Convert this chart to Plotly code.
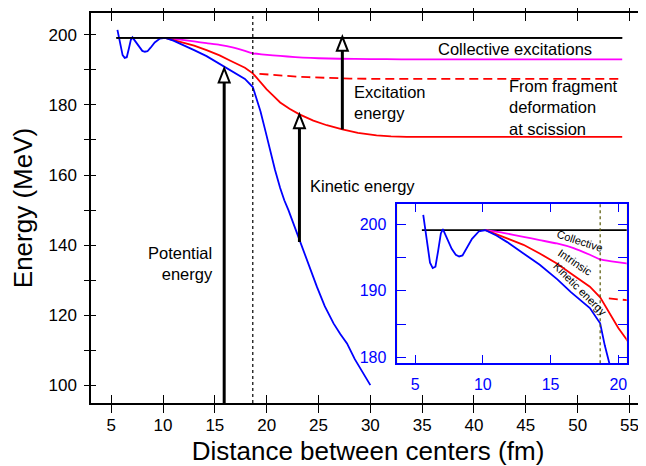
import plotly.graph_objects as go

# ---------------- data ----------------
black_x = [5.5, 54.3]
black_y = [199.1, 199.1]

blue_x = [5.6, 5.9, 6.1, 6.3, 6.5, 6.7, 6.9, 7.05, 7.3, 7.7, 8.0, 8.25, 8.5, 8.8, 9.2, 9.7,
          10.2, 11.0, 11.8, 13.0, 14.2, 15.5, 16.5, 17.9, 18.66, 19.0, 19.4, 19.9, 20.35,
          20.8, 21.3, 21.7, 22.1, 23.2, 24.0, 24.85, 25.6, 26.45, 27.1, 27.75, 28.5, 29.3, 30.0]
blue_y = [201.4, 197.5, 194.2, 193.4, 193.6, 196.0, 198.6, 199.25, 198.2, 196.3, 195.4, 195.15,
          195.3, 196.3, 197.8, 198.9, 199.1, 198.3, 197.3, 195.6, 193.9, 191.7, 189.8, 187.4,
          185.1, 181.8, 178.2, 172.3, 166.8, 161.5, 156.3, 152.8, 150.0, 141.0, 134.5, 128.1,
          122.6, 117.7, 114.7, 112.0, 107.5, 103.4, 100.1]

red_x = [10.2, 11.0, 12.0, 13.0, 14.2, 15.46, 16.5, 17.9, 18.66, 19.3, 20.0, 20.6, 21.3, 22.2,
         23.16, 24.5, 25.8, 27.3, 28.8, 30.6, 32.0, 33.5, 54.3]
red_y = [199.1, 198.5, 197.7, 196.9, 195.6, 194.1, 192.6, 190.6, 189.0, 186.8, 184.4, 182.7,
         180.7, 178.9, 177.3, 175.5, 174.2, 173.0, 172.0, 171.3, 171.0, 170.9, 170.9]

magenta_x = [10.2, 11.5, 13.0, 14.2, 15.46, 16.7, 17.9, 18.66, 19.5, 20.6, 22.0, 23.5, 25.0,
             27.0, 30.0, 33.0, 54.3]
magenta_y = [199.1, 198.7, 198.1, 197.6, 197.1, 196.4, 195.4, 194.7, 194.4, 194.1, 193.8,
             193.5, 193.3, 193.15, 193.05, 193.0, 193.0]

dashed_x = [19.3, 20.6, 22.0, 23.2, 24.0, 26.0, 28.0, 31.0, 54.3]
dashed_y = [188.85, 188.5, 188.2, 188.0, 187.9, 187.65, 187.5, 187.4, 187.4]

scission_x = 18.66

arrow_x = [15.9, 23.16, 27.3]
arrow_base = [95.0, 140.9, 173.0]
arrow_tip = [190.4, 177.3, 199.4]

main_xticks = [5, 10, 15, 20, 25, 30, 35, 40, 45, 50, 55]
main_yticks = [100, 110, 120, 130, 140, 150, 160, 170, 180, 190, 200]
main_ytext = ["100", "", "120", "", "140", "", "160", "", "180", "", "200"]
inset_xticks = [5, 10, 15, 20]
inset_yticks = [180, 185, 190, 195, 200]
inset_ytext = ["180", "", "190", "", "200"]

# ---------------- style ----------------
FONT = "Liberation Sans, Arial, sans-serif"
# the page body has an 8px default margin; the figure is sized to fit the window
W, H = 638, 458
ML, MR, MT, MB = 83, 1, 5, 63
XR = [3.05, 56.5]
YR = [95.0, 206.2]
X2R = [3.69, 20.62]
Y2R = [179.1, 203.1]
BLUE, RED, MAG = "#0000ff", "#ff0000", "#ff00ff"

fig = go.Figure()


def add_curves(xa, ya):
    fig.add_trace(go.Scatter(x=black_x, y=black_y, mode="lines", xaxis=xa, yaxis=ya,
                             line=dict(color="black", width=1.8), hoverinfo="skip"))
    fig.add_trace(go.Scatter(x=magenta_x, y=magenta_y, mode="lines", xaxis=xa, yaxis=ya,
                             line=dict(color=MAG, width=1.8, shape="spline", smoothing=0.4),
                             hoverinfo="skip"))
    fig.add_trace(go.Scatter(x=dashed_x, y=dashed_y, mode="lines", xaxis=xa, yaxis=ya,
                             line=dict(color=RED, width=1.8, dash="9px,5px"), hoverinfo="skip"))
    fig.add_trace(go.Scatter(x=red_x, y=red_y, mode="lines", xaxis=xa, yaxis=ya,
                             line=dict(color=RED, width=1.8), hoverinfo="skip"))
    fig.add_trace(go.Scatter(x=blue_x, y=blue_y, mode="lines", xaxis=xa, yaxis=ya,
                             line=dict(color=BLUE, width=1.8), hoverinfo="skip"))


add_curves("x", "y")
add_curves("x2", "y2")
# trace on overlay axis so that inner left/right ticks are drawn
fig.add_trace(go.Scatter(x=black_x, y=black_y, mode="lines", xaxis="x", yaxis="y3",
                         line=dict(color="black", width=1.8), hoverinfo="skip"))

shapes = []
# inset background
shapes.append(dict(type="rect", xref="x2 domain", yref="y2 domain", x0=0, x1=1, y0=0, y1=1,
                   fillcolor="#ffff00", line=dict(width=0), layer="below"))
# scission dotted lines
shapes.append(dict(type="line", xref="x", yref="y domain", x0=scission_x, x1=scission_x,
                   y0=0, y1=1, line=dict(color="black", width=1.2, dash="dot")))
shapes.append(dict(type="line", xref="x2", yref="y2 domain", x0=scission_x, x1=scission_x,
                   y0=0, y1=1, line=dict(color="#555500", width=1.2, dash="dot")))

# arrows (shaft + open triangular head)
plot_w = W - ML - MR
plot_h = H - MT - MB
xs = plot_w / (XR[1] - XR[0])
ys = plot_h / (YR[1] - YR[0])
head_h = 14 / ys
head_hw = 5.5 / xs
for ax, b, t in zip(arrow_x, arrow_base, arrow_tip):
    shapes.append(dict(type="line", xref="x", yref="y", x0=ax, x1=ax, y0=b, y1=t - head_h,
                       line=dict(color="black", width=3)))
    path = f"M {ax - head_hw},{t - head_h} L {ax + head_hw},{t - head_h} L {ax},{t} Z"
    shapes.append(dict(type="path", xref="x", yref="y", path=path, fillcolor="white",
                       line=dict(color="black", width=2)))

annots = []
AF = dict(family=FONT, size=16.5, color="black")
annots.append(dict(text="Collective excitations", x=43.98, y=195.8, xref="x", yref="y",
                   showarrow=False, font=AF, xanchor="center", yanchor="middle"))
annots.append(dict(text="Excitation<br>energy", x=28.2, y=180.6, xref="x", yref="y",
                   showarrow=False, font=AF, xanchor="left", yanchor="middle", align="left"))
annots.append(dict(text="From fragment<br>deformation<br>at scission", x=43.17, y=179.25,
                   xref="x", yref="y", showarrow=False, font=AF, xanchor="left",
                   yanchor="middle", align="left"))
annots.append(dict(text="Kinetic energy", x=24.0, y=156.8, xref="x", yref="y",
                   showarrow=False, font=AF, xanchor="left", yanchor="middle"))
annots.append(dict(text="Potential<br>energy", x=15.02, y=134.7, xref="x", yref="y",
                   showarrow=False, font=AF, xanchor="right", yanchor="middle", align="right"))
IF = dict(family=FONT, size=11, color="black")
annots.append(dict(text="Collective", x=17.18, y=197.5, xref="x2", yref="y2", textangle=18,
                   showarrow=False, font=IF))
annots.append(dict(text="Intrinsic", x=16.78, y=194.3, xref="x2", yref="y2", textangle=34,
                   showarrow=False, font=IF))
annots.append(dict(text="Kinetic energy", x=17.18, y=190.25, xref="x2", yref="y2",
                   textangle=45, showarrow=False, font=IF))

axis_common = dict(showgrid=False, zeroline=False, showline=True)

fig.update_layout(
    width=W, height=H,
    margin=dict(l=ML, r=MR, t=MT, b=MB, autoexpand=False),
    paper_bgcolor="white", plot_bgcolor="white",
    showlegend=False,
    font=dict(family=FONT, color="black"),
    shapes=shapes, annotations=annots,
    xaxis=dict(**axis_common, domain=[0, 1], anchor="y", range=XR, linecolor="black",
               linewidth=1.5, mirror="allticks", ticks="inside", ticklen=8, tickwidth=1.3,
               tickcolor="black", tickvals=main_xticks, ticklabelstandoff=6,
               tickfont=dict(family=FONT, size=17, color="black"),
               title=dict(text="Distance between centers (fm)", standoff=9,
                          font=dict(family=FONT, size=26, color="black"))),
    yaxis=dict(**axis_common, domain=[0, 1], anchor="x", range=YR, linecolor="black",
               linewidth=1.5, mirror=True, ticks="outside", ticklen=5, tickwidth=1.3,
               tickcolor="black", tickvals=main_yticks, ticktext=main_ytext,
               ticklabelstandoff=4,
               tickfont=dict(family=FONT, size=17, color="black"),
               title=dict(text="Energy (MeV)", standoff=11,
                          font=dict(family=FONT, size=26, color="black"))),
    yaxis3=dict(**axis_common, overlaying="y", anchor="x", side="left", range=YR,
                linecolor="black", linewidth=1.5, mirror="allticks", ticks="inside",
                ticklen=5, tickwidth=1.3, tickcolor="black", tickvals=main_yticks,
                showticklabels=False),
    xaxis2=dict(**axis_common, domain=[0.553, 0.967], anchor="y2", range=X2R,
                linecolor=BLUE, linewidth=1.5, mirror="allticks", ticks="inside", ticklen=9,
                tickwidth=1.3, tickcolor=BLUE, tickvals=inset_xticks, ticklabelstandoff=6,
                tickfont=dict(family=FONT, size=16, color=BLUE)),
    yaxis2=dict(**axis_common, domain=[0.1018, 0.5115], anchor="x2", range=Y2R,
                linecolor=BLUE, linewidth=1.5, mirror="allticks", ticks="inside", ticklen=9,
                tickwidth=1.3, tickcolor=BLUE, tickvals=inset_yticks, ticktext=inset_ytext,
                ticklabelstandoff=6,
                tickfont=dict(family=FONT, size=16, color=BLUE)),
)

fig.write_html("out.html")
